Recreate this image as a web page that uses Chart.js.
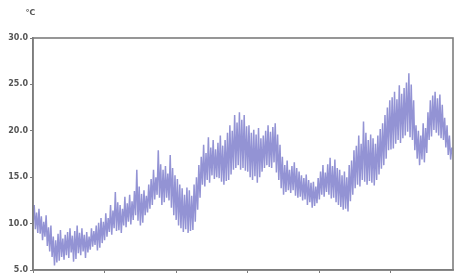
<!DOCTYPE html>
<html>
<head>
<meta charset="utf-8">
<script src="https://cdn.jsdelivr.net/npm/chart.js@4"></script>
<style>
  html, body { margin: 0; padding: 0; background: #fff; overflow: hidden; }
  #wrap { position: relative; width: 455px; height: 290px; }
</style>
</head>
<body>
<div id="wrap"><canvas id="tempChart" width="455" height="290"></canvas></div>
<script>
// Daily maximum / minimum temperature (℃)
const dailyHigh = [
    12.0, 11.2, 11.6, 10.8, 10.2, 10.9, 9.6, 9.8, 8.6, 8.2,
    8.9, 9.3, 8.4, 8.8, 9.1, 9.5, 8.7, 9.2, 9.8, 9.0,
    9.5, 8.8, 9.1, 8.6, 9.5, 9.2, 9.8, 10.1, 10.6, 10.2,
    11.1, 10.6, 12.0, 11.4, 13.4, 12.3, 12.0, 11.6, 12.9, 12.2,
    13.1, 12.4, 13.5, 15.8, 14.0, 13.2, 13.6, 13.0, 14.2, 14.8,
    15.8, 15.0, 17.9, 16.4, 15.8, 16.2, 15.4, 17.4, 16.0, 15.2,
    14.8, 14.2, 13.8, 13.1, 13.9, 13.6, 13.0, 14.2, 15.0, 16.3,
    17.2, 18.5, 17.6, 19.3, 18.2, 19.0, 18.0, 18.7, 19.5, 18.4,
    19.0, 19.8, 20.6, 20.0, 21.7, 20.9, 22.0, 21.2, 21.7, 20.5,
    20.6, 19.8, 20.1, 19.6, 20.3, 19.2, 19.5, 20.0, 20.6, 19.9,
    20.4, 20.8, 19.6, 18.5, 17.2, 16.3, 16.8, 15.8, 16.2, 16.6,
    16.0, 15.6, 15.2, 14.9, 15.3, 14.7, 14.4, 14.5, 14.0, 14.9,
    15.6, 16.3, 15.5, 16.4, 17.1, 16.2, 16.9, 16.0, 15.8, 15.2,
    15.6, 15.0, 16.3, 16.8, 17.9, 18.4, 19.5, 18.6, 21.0, 19.8,
    19.0, 19.6, 19.2, 18.6, 19.5, 20.2, 20.8, 21.7, 22.5, 23.3,
    23.6, 24.2, 23.4, 24.9, 24.0, 24.6, 25.2, 26.2, 25.0, 23.3,
    20.6, 20.0, 19.5, 20.8, 20.3, 22.0, 23.3, 23.8, 24.2, 23.5,
    23.9, 22.8, 21.4, 20.6, 19.5, 18.2
];
const dailyLow = [
    9.8, 9.4, 9.0, 8.9, 8.2, 8.6, 7.6, 7.0, 6.4, 5.5,
    5.8, 6.0, 6.4, 6.1, 6.6, 6.3, 6.9, 5.9, 6.2, 6.8,
    6.6, 7.0, 6.3, 6.9, 7.2, 7.5, 7.7, 7.1, 7.4, 7.9,
    8.2, 8.6, 9.1, 8.8, 9.5, 9.2, 9.3, 9.0, 9.8, 9.6,
    10.2, 9.9, 10.4, 10.9, 10.3, 9.8, 10.1, 10.9, 11.2, 11.6,
    12.0, 12.6, 13.1, 12.8, 12.0, 12.3, 12.8, 12.5, 11.7, 10.9,
    10.4, 9.8, 9.5, 9.1, 9.4, 9.0, 9.2, 9.3, 10.2, 11.5,
    12.8, 14.2, 14.0, 14.7, 14.4, 15.2, 14.8, 15.0, 14.9, 14.5,
    14.2, 14.6, 14.7, 15.3, 15.8, 16.0, 16.3, 15.8, 16.0, 15.7,
    15.6, 15.0, 14.7, 15.1, 14.4, 15.0, 15.6, 16.0, 16.3, 16.1,
    16.0, 16.6, 15.5, 14.7, 13.8, 13.1, 13.4, 13.6, 13.3, 13.6,
    13.0, 12.8, 12.9, 12.5, 12.6, 12.0, 12.3, 11.7, 11.9, 12.2,
    12.6, 13.1, 12.9, 13.4, 13.1, 12.7, 12.8, 12.3, 12.0, 11.8,
    11.5, 11.6, 11.3, 12.4, 13.1, 13.8, 14.2, 14.0, 14.7, 14.5,
    14.2, 14.6, 14.4, 14.1, 14.7, 15.3, 15.9, 16.3, 17.0, 17.9,
    18.0, 18.1, 18.6, 19.0, 18.7, 19.2, 19.5, 19.9, 19.3, 19.0,
    17.9, 17.0, 16.3, 16.9, 16.6, 17.6, 19.0, 19.4, 20.1, 19.8,
    19.5, 19.2, 19.0, 18.2, 17.4, 16.9
];
const monthTicks = [0, 30, 60, 90, 120, 150];
const monthLabels = ['3月', '4月', '5月', '6月', '7月', '8月'];
const yTicks = [5, 10, 15, 20, 25, 30];
const unitLabel = '℃';

// low in the morning, high in the afternoon
const points = [];
dailyLow.forEach((lo, d) => {
    points.push({ x: d, y: lo });
    points.push({ x: d + 0.5, y: dailyHigh[d] });
});

// frame round the plot area + unit label
const framePlugin = {
    id: 'frame',
    afterDraw(chart) {
        const { ctx, chartArea: a } = chart;
        ctx.save();
        ctx.strokeStyle = '#7d7d7d';
        ctx.lineWidth = 1.6;
        ctx.strokeRect(a.left, a.top, a.right - a.left, a.bottom - a.top);
        ctx.fillStyle = '#555';
        ctx.font = 'bold 8px "DejaVu Sans"';
        ctx.textAlign = 'center';
        ctx.fillText(unitLabel, 30, 15);
        ctx.restore();
    }
};

new Chart(document.getElementById('tempChart'), {
    type: 'line',
    data: {
        datasets: [{
            data: points,
            borderColor: 'rgba(128, 128, 204, 0.85)',
            borderWidth: 1.5,
            pointRadius: 0,
            tension: 0,
            fill: false
        }]
    },
    plugins: [framePlugin],
    options: {
        responsive: false,
        animation: false,
        events: [],
        layout: { padding: { top: 38, right: 2, left: 0, bottom: 0 } },
        plugins: { legend: { display: false }, tooltip: { enabled: false } },
        scales: {
            x: {
                type: 'linear',
                min: 0,
                max: 176,
                afterFit: s => { s.height = 20; },
                afterBuildTicks: s => { s.ticks = monthTicks.map(v => ({ value: v })); },
                ticks: {
                    callback: (v) => monthLabels[monthTicks.indexOf(v)],
                    color: '#555',
                    font: { size: 8, family: 'DejaVu Sans', weight: 'bold' },
                    maxRotation: 0,
                    padding: 2
                },
                grid: { drawOnChartArea: false, drawTicks: true, tickLength: 4, color: '#7d7d7d' },
                border: { color: '#7d7d7d', width: 1.6 }
            },
            y: {
                min: 5,
                max: 30,
                afterFit: s => { s.width = 33; },
                afterBuildTicks: s => { s.ticks = yTicks.map(v => ({ value: v })); },
                ticks: {
                    callback: v => v.toFixed(1),
                    color: '#555',
                    font: { size: 8, family: 'DejaVu Sans', weight: 'bold' },
                    padding: 2
                },
                grid: { drawOnChartArea: false, drawTicks: true, tickLength: 3, color: '#7d7d7d' },
                border: { color: '#7d7d7d', width: 1.6 }
            }
        }
    }
});
</script>
</body>
</html>
